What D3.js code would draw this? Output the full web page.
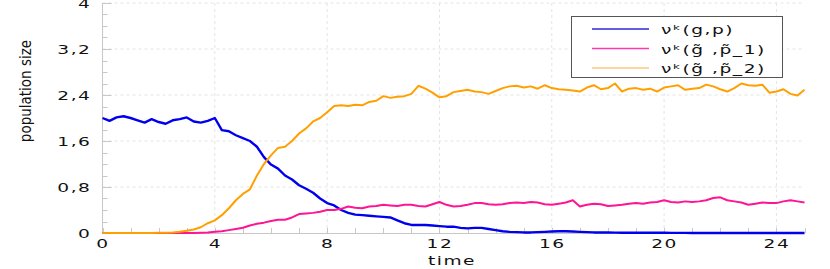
<!DOCTYPE html>
<html><head><meta charset="utf-8">
<script src="https://cdn.jsdelivr.net/npm/d3@7"></script>
<style>
html,body{margin:0;padding:0;background:#fff;}
svg{display:block;}
</style></head>
<body>
<svg id="chart" width="830" height="269"></svg>
<script>
const times = [0,0.25,0.5,0.75,1,1.25,1.5,1.75,2,2.25,2.5,2.75,3,3.25,3.5,3.75,4,4.25,4.5,4.75,5,5.25,5.5,5.75,6,6.25,6.5,6.75,7,7.25,7.5,7.75,8,8.25,8.5,8.75,9,9.25,9.5,9.75,10,10.25,10.5,10.75,11,11.25,11.5,11.75,12,12.25,12.5,12.75,13,13.25,13.5,13.75,14,14.25,14.5,14.75,15,15.25,15.5,15.75,16,16.25,16.5,16.75,17,17.25,17.5,17.75,18,18.25,18.5,18.75,19,19.25,19.5,19.75,20,20.25,20.5,20.75,21,21.25,21.5,21.75,22,22.25,22.5,22.75,23,23.25,23.5,23.75,24,24.25,24.5,24.75,25];

const seriesBlue = [2.00,1.95,2.01,2.03,2.00,1.96,1.92,1.98,1.93,1.90,1.96,1.98,2.01,1.94,1.92,1.95,2.00,1.79,1.77,1.70,1.65,1.60,1.50,1.32,1.19,1.12,1.00,0.93,0.83,0.77,0.70,0.60,0.52,0.48,0.40,0.35,0.32,0.31,0.30,0.29,0.28,0.27,0.22,0.17,0.14,0.14,0.14,0.13,0.12,0.11,0.11,0.09,0.08,0.09,0.09,0.07,0.05,0.03,0.02,0.015,0.01,0.01,0.015,0.02,0.025,0.03,0.03,0.025,0.02,0.015,0.01,0.01,0.008,0.006,0.005,0.005,0.005,0.005,0.004,0.004,0.004,0.003,0.003,0.002,0,0,0,0,0,0,0,0,0,0,0,0,0,0,0,0,0];

const seriesPink = [0,0,0,0,0,0,0,0,0,0,0,0,0,0,0.005,0.01,0.02,0.03,0.05,0.07,0.09,0.13,0.16,0.18,0.21,0.23,0.23,0.27,0.33,0.34,0.35,0.37,0.40,0.40,0.42,0.46,0.44,0.43,0.46,0.47,0.49,0.48,0.47,0.49,0.49,0.47,0.46,0.50,0.54,0.49,0.46,0.47,0.49,0.52,0.52,0.50,0.49,0.50,0.52,0.53,0.52,0.54,0.53,0.50,0.49,0.51,0.53,0.57,0.46,0.49,0.51,0.50,0.47,0.48,0.49,0.51,0.52,0.51,0.53,0.54,0.57,0.54,0.53,0.55,0.54,0.55,0.57,0.61,0.62,0.57,0.55,0.53,0.49,0.51,0.53,0.52,0.52,0.55,0.57,0.55,0.53];

const seriesOrange = [0,0,0,0,0,0,0,0,0.003,0.005,0.01,0.02,0.04,0.06,0.10,0.17,0.22,0.31,0.43,0.57,0.68,0.76,1.00,1.20,1.35,1.48,1.50,1.60,1.73,1.82,1.94,2.00,2.10,2.21,2.22,2.21,2.23,2.22,2.28,2.30,2.38,2.35,2.37,2.38,2.42,2.56,2.51,2.44,2.36,2.38,2.45,2.47,2.49,2.46,2.45,2.42,2.47,2.52,2.55,2.56,2.53,2.55,2.51,2.57,2.52,2.50,2.49,2.48,2.46,2.53,2.57,2.50,2.52,2.60,2.46,2.51,2.52,2.49,2.51,2.46,2.53,2.55,2.57,2.49,2.51,2.52,2.58,2.55,2.50,2.46,2.52,2.60,2.57,2.56,2.58,2.44,2.46,2.50,2.42,2.39,2.49];

const seriesNames = ["νᵏ(g,p)", "νᵏ(g̃ ,p̃_1)", "νᵏ(g̃ ,p̃_2)"];
const seriesColors = ["#0000ee", "#ff1493", "#ffa000"];
const legendColors = ["#2a2ad0", "#ff3ab0", "#ffc878"];
const xTicks = [0,4,8,12,16,20,24];
const yTicks = [0,0.8,1.6,2.4,3.2,4];
const yTickLabels = ["0","0,8","1,6","2,4","3,2","4"];
const xLabel = "time";
const yLabel = "population size";

(function(){
const svg = d3.select("#chart");
const pL = 102.5, pR = 804.5, pT = 3, pB = 233;
const x = d3.scaleLinear().domain([0,25]).range([pL,pR]);
const y = d3.scaleLinear().domain([0,4]).range([pB,pT]);
const SX = 1.55;
const tickFont = "DejaVu Sans, Verdana, sans-serif";

const grid = svg.append("g");
grid.selectAll("line.gx").data(xTicks.filter(d=>d>0)).join("line")
  .attr("x1",d=>x(d)).attr("x2",d=>x(d)).attr("y1",pT).attr("y2",pB)
  .attr("stroke","#e4e4e4").attr("stroke-dasharray","3,3");
grid.selectAll("line.gy").data(yTicks.filter(d=>d>0)).join("line")
  .attr("x1",pL).attr("x2",pR).attr("y1",d=>y(d)).attr("y2",d=>y(d))
  .attr("stroke","#e4e4e4").attr("stroke-dasharray","3,3");

const yMinor = d3.range(0, 4.001, 0.2);
const xMinor = d3.range(0, 25.001, 1);
svg.append("g").selectAll("line").data(yMinor).join("line")
  .attr("x1",pL).attr("x2",d=> yTicks.some(t=>Math.abs(t-d)<1e-6)? pL+9 : pL+5)
  .attr("y1",d=>Math.round(y(d))+0.5).attr("y2",d=>Math.round(y(d))+0.5)
  .attr("stroke","#c8c8c8");
svg.append("g").selectAll("line").data(xMinor).join("line")
  .attr("y1",pB).attr("y2",pB-5)
  .attr("x1",d=>Math.round(x(d))+0.5).attr("x2",d=>Math.round(x(d))+0.5)
  .attr("stroke","#c8c8c8");

svg.append("line").attr("x1",pL).attr("x2",pL).attr("y1",pT).attr("y2",pB).attr("stroke","#c8c8c8");
svg.append("line").attr("x1",pL).attr("x2",pR).attr("y1",pB+0.5).attr("y2",pB+0.5).attr("stroke","#c8c8c8");

const xAxis = svg.append("g").attr("transform",`translate(0,${pB})`)
  .call(d3.axisBottom(x).tickValues(xTicks).tickSize(0).tickPadding(15).tickFormat(d3.format("d")));
const yAxis = svg.append("g").attr("transform",`translate(${pL},0)`)
  .call(d3.axisLeft(y).tickValues(yTicks).tickSize(0).tickPadding(11).tickFormat((d,i)=>yTickLabels[i]));
[xAxis,yAxis].forEach(a=>{
  a.select(".domain").remove();
  a.selectAll("text").attr("font-family",tickFont).attr("font-size",12).attr("fill","#111")
    .attr("letter-spacing","1px");
});
xAxis.selectAll("text").attr("dy",null).attr("y",15).attr("transform",`scale(${SX},1)`);
yAxis.selectAll("text").attr("dy","0.36em").attr("x",-11/SX).attr("transform",`scale(${SX},1)`);

svg.append("text").attr("transform",`translate(452,265) scale(${SX},1)`)
  .attr("text-anchor","middle").attr("font-family",tickFont).attr("font-size",12)
  .attr("letter-spacing","1px").attr("fill","#111").text(xLabel);
svg.append("text").attr("transform","translate(31,91) rotate(-90)")
  .attr("text-anchor","middle").attr("font-family","Liberation Sans Narrow, DejaVu Sans Condensed, sans-serif")
  .attr("font-size",15).attr("fill","#111").text(yLabel);

const allSeries = [seriesBlue, seriesPink, seriesOrange];
const line = d3.line().x((d,i)=>x(times[i])).y(d=>y(d));
allSeries.forEach((s,k)=>{
  svg.append("path").datum(s).attr("d",line).attr("fill","none")
    .attr("stroke",seriesColors[k]).attr("stroke-width",k===0?2.4:2).attr("stroke-linejoin","round");
});

const lg = svg.append("g");
lg.append("rect").attr("x",571.5).attr("y",16.5).attr("width",211).attr("height",61)
  .attr("fill","#fff").attr("stroke","#555");
const rows = [29,48.5,68];
seriesNames.forEach((n,i)=>{
  lg.append("line").attr("x1",592).attr("x2",649).attr("y1",rows[i]).attr("y2",rows[i])
    .attr("stroke",legendColors[i]).attr("stroke-width",1.5);
  lg.append("text").attr("transform",`translate(661,${rows[i]+5}) scale(${SX},1)`)
    .attr("font-family",tickFont).attr("font-size",12).attr("letter-spacing","1px")
    .attr("fill","#111").text(n);
});
})();
</script>
</body></html>
